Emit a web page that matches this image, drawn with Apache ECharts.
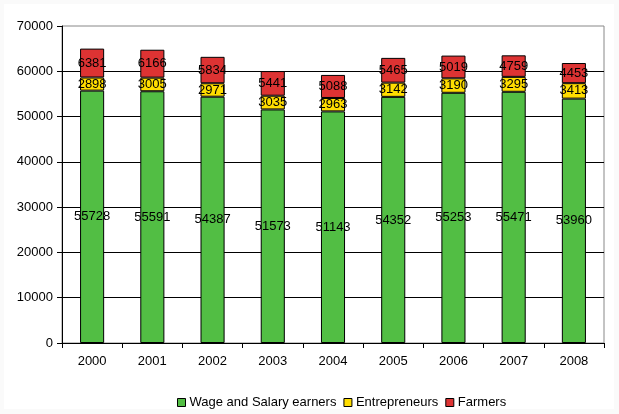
<!DOCTYPE html>
<html><head><meta charset="utf-8">
<script src="https://cdn.jsdelivr.net/npm/echarts@6/dist/echarts.min.js"></script>
<style>html,body{margin:0;padding:0;background:#fff}#c{width:619px;height:414px}</style>
</head><body><div id="c"></div>
<script>
const years = ['2000','2001','2002','2003','2004','2005','2006','2007','2008'];
const wage = [55728,55591,54387,51573,51143,54352,55253,55471,53960];
const entrepreneurs = [2898,3005,2971,3035,2963,3142,3190,3295,3413];
const farmers = [6381,6166,5834,5441,5088,5465,5019,4759,4453];
const yTicks = [0,10000,20000,30000,40000,50000,60000,70000];

const font = 'Liberation Sans, Arial, sans-serif';
const lbl = {show:true, position:'inside', color:'#000', fontFamily:font, fontSize:13};
function s(name, data, color){
  return {name, type:'bar', stack:'a', data, barWidth:'40%',
    itemStyle:{color, borderColor:'#000', borderWidth:1},
    label:lbl, emphasis:{disabled:true}};
}
const chart = echarts.init(document.getElementById('c'), null, {renderer:'canvas'});
chart.setOption({
  animation:false,
  backgroundColor:'#fafafa',
  graphic:[{type:'rect', z:-10, silent:true, shape:{x:4,y:4,width:610,height:405}, style:{fill:'#fff'}}],
  grid:{left:62, right:15, top:26, bottom:71, show:true, borderColor:'#888', borderWidth:1, backgroundColor:'transparent'},
  legend:{top:391, left:172, itemWidth:8, itemHeight:8, itemGap:7,
    textStyle:{fontFamily:font, fontSize:13, color:'#000', padding:[0,0,0,-1]},
    data:[{name:'Wage and Salary earners',icon:'rect',itemStyle:{borderColor:'#000',borderWidth:1}},
          {name:'Entrepreneurs',icon:'rect',itemStyle:{borderColor:'#000',borderWidth:1}},
          {name:'Farmers',icon:'rect',itemStyle:{borderColor:'#000',borderWidth:1}}]},
  xAxis:{type:'category', data:years, boundaryGap:true,
    axisLine:{lineStyle:{color:'#000'}},
    axisTick:{show:true, length:5, lineStyle:{color:'#000'}},
    axisLabel:{color:'#000', fontFamily:font, fontSize:13, margin:12}},
  yAxis:{type:'value', min:0, max:70000, interval:10000,
    axisLine:{show:true, lineStyle:{color:'#000'}},
    axisTick:{show:true, length:5, lineStyle:{color:'#000'}},
    splitLine:{showMaxLine:false, lineStyle:{color:'#000', width:1}},
    axisLabel:{color:'#000', fontFamily:font, fontSize:13, margin:9,
      formatter:v=>yTicks.includes(v)?String(v):''}},
  series:[s('Wage and Salary earners', wage, '#52BE44'),
          s('Entrepreneurs', entrepreneurs, '#FFDD00'),
          s('Farmers', farmers, '#DD3333')]
});
</script></body></html>
